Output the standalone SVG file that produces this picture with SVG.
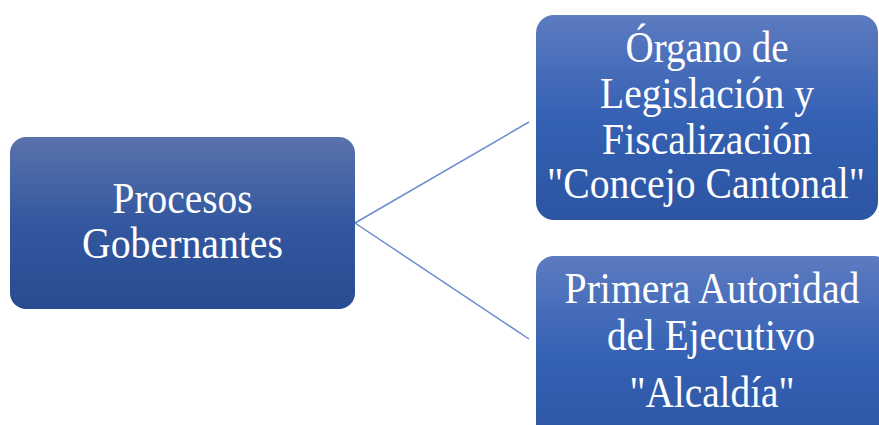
<svg xmlns="http://www.w3.org/2000/svg" width="879" height="425" viewBox="0 0 879 425">
<style>
.t{font-family:"Liberation Serif","Times New Roman",serif;font-size:45px;fill:#ffffff;text-anchor:middle}
.edge{stroke:#6d8bd0;stroke-width:1.5;fill:none}
</style>
<defs>
<linearGradient id="gL" x1="0" y1="0" x2="0" y2="1">
<stop offset="0" stop-color="#5a72ac"/>
<stop offset="0.5" stop-color="#33589f"/>
<stop offset="1" stop-color="#284b91"/>
</linearGradient>
<linearGradient id="gR" x1="0" y1="0" x2="0" y2="1">
<stop offset="0" stop-color="#5c7bc0"/>
<stop offset="0.5" stop-color="#3561b4"/>
<stop offset="1" stop-color="#2c55a2"/>
</linearGradient>
</defs>
<rect width="879" height="425" fill="#ffffff"/>
<g id="connectors">
<line class="edge" x1="355" y1="223" x2="529" y2="122"/>
<line class="edge" x1="355" y1="223" x2="529" y2="339"/>
</g>
<g id="node-procesos">
<rect x="10" y="137" width="345" height="172" rx="16" fill="url(#gL)"/>
<text class="t" x="182.5" y="213" textLength="140" lengthAdjust="spacingAndGlyphs">Procesos</text>
<text class="t" x="182.5" y="258" textLength="201" lengthAdjust="spacingAndGlyphs">Gobernantes</text>
</g>
<g id="node-organo">
<rect x="536" y="15" width="342" height="205" rx="18" fill="url(#gR)"/>
<text class="t" x="707" y="62" textLength="163" lengthAdjust="spacingAndGlyphs">Órgano de</text>
<text class="t" x="707" y="108" textLength="214" lengthAdjust="spacingAndGlyphs">Legislación y</text>
<text class="t" x="707" y="154" textLength="210" lengthAdjust="spacingAndGlyphs">Fiscalización</text>
<text class="t" x="706" y="198" textLength="318" lengthAdjust="spacingAndGlyphs">"Concejo Cantonal"</text>
</g>
<g id="node-alcaldia">
<rect x="536" y="256" width="356" height="200" rx="18" fill="url(#gR)"/>
<text class="t" x="712" y="303" textLength="295" lengthAdjust="spacingAndGlyphs">Primera Autoridad</text>
<text class="t" x="711" y="350" textLength="208" lengthAdjust="spacingAndGlyphs">del Ejecutivo</text>
<text class="t" x="712" y="407" textLength="165" lengthAdjust="spacingAndGlyphs">"Alcaldía"</text>
</g>
</svg>
